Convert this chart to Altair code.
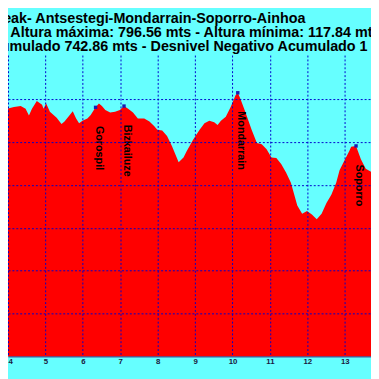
import altair as alt
import pandas as pd

# Elevation profile (km, metres)
km = [3.82, 3.99, 4.16, 4.34, 4.47, 4.56, 4.64, 4.77, 4.91, 4.95,
      5.02, 5.12, 5.21, 5.30, 5.43, 5.51, 5.64, 5.73, 5.82, 5.90,
      5.99, 6.12, 6.21, 6.34, 6.43, 6.51, 6.60, 6.73, 6.86, 6.99,
      7.10, 7.21, 7.34, 7.47, 7.64, 7.78, 7.91, 7.99, 8.12, 8.25,
      8.38, 8.56, 8.69, 8.77, 8.95, 9.12, 9.25, 9.38, 9.51, 9.60,
      9.69, 9.82, 9.95, 10.08, 10.14, 10.21, 10.34, 10.51, 10.65, 10.78,
      10.91, 11.04, 11.17, 11.30, 11.43, 11.56, 11.73, 11.86, 11.99, 12.12,
      12.25, 12.38, 12.51, 12.64, 12.77, 12.86, 12.99, 13.12, 13.17, 13.30,
      13.43, 13.56, 13.71]
elev = [675, 678, 682, 684, 678, 662, 678, 696, 687, 678,
        690, 671, 664, 657, 642, 648, 662, 672, 655, 644,
        650, 655, 663, 681, 690, 684, 675, 669, 671, 675,
        684, 678, 669, 655, 655, 648, 637, 629, 627, 614,
        591, 553, 564, 578, 606, 629, 644, 650, 646, 640,
        650, 659, 682, 709, 715, 701, 671, 629, 598, 595,
        583, 564, 563, 549, 529, 505, 452, 433, 439, 431,
        420, 433, 458, 477, 505, 534, 557, 579, 589, 591,
        560, 538, 530]

peak_names = ["Gorospil", "Bizkailuze", "Mondarrain", "Soporro"]
peak_km = [6.34, 7.10, 10.14, 13.30]
peak_elev = [681, 684, 715, 591]

title_line1 = ["eak- Antsestegi-Mondarrain-Soporro-Ainhoa"]
title_line2 = ["- Altura máxima: 796.56 mts - Altura mínima: 117.84 mts"]
title_line3 = ["umulado 742.86 mts - Desnivel Negativo Acumulado 1"]

x_ticks = [4, 5, 6, 7, 8, 9, 10, 11, 12, 13]
y_grid = [200, 300, 400, 500, 600, 700]

profile = pd.DataFrame({"km": km, "elev": elev})
peaks = pd.DataFrame({"name": peak_names, "km": peak_km, "elev": peak_elev})

FONT = "Liberation Sans"
GRID = "#0000cc"

xscale = alt.Scale(domain=[4, 13.7], nice=False, zero=False)
yscale = alt.Scale(domain=[100, 803], nice=False, zero=False)

xaxis = alt.Axis(values=x_ticks, title=None, grid=True, gridColor=GRID,
                 gridDash=[2, 2], gridWidth=1, ticks=False, labelFontSize=8,
                 labelFontWeight="bold", labelColor="#1a1a40", labelPadding=1,
                 labelFlush=True, labelFont=FONT, domainColor="#3a2a80",
                 domainWidth=1, zindex=1, format="d")
yaxis = alt.Axis(values=y_grid, title=None, grid=True, gridColor=GRID,
                 gridDash=[2, 2], gridWidth=1, ticks=False, labels=False,
                 domain=False, zindex=1)

area = alt.Chart(profile).mark_area(color="#ff0000", clip=True).encode(
    x=alt.X("km:Q", scale=xscale, axis=xaxis),
    y=alt.Y("elev:Q", scale=yscale, axis=yaxis),
)

pts = alt.Chart(peaks).mark_square(size=12, color="#1a1ab0", opacity=1).encode(
    x="km:Q", y="elev:Q"
)

labels = alt.Chart(peaks).mark_text(
    angle=90, align="left", baseline="alphabetic", dx=19,
    fontSize=11, fontWeight="bold", font=FONT, color="#000000"
).encode(x="km:Q", y="elev:Q", text="name:N")

def title_text(lines, x, y, align):
    return alt.Chart(pd.DataFrame({"t": lines})).mark_text(
        align=align, baseline="alphabetic", fontSize=14.67,
        fontWeight="bold", font=FONT, color="#000000"
    ).encode(x=alt.value(x), y=alt.value(y), text="t:N")

t1 = title_text(title_line1, 304, -33, "right")
t2 = title_text(title_line2, -6, -18.5, "left")
t3 = title_text(title_line3, -7.5, -4, "left")

chart = alt.layer(area, pts, labels, t1, t2, t3).properties(
    width=371, height=308, background="#66ffff",
    padding={"left": 0, "top": 44, "right": 0, "bottom": 19},
    autosize=alt.AutoSizeParams(type="none"),
).configure_view(strokeWidth=0)

chart.save("out.html", embed_options={"renderer": "svg", "actions": False})
